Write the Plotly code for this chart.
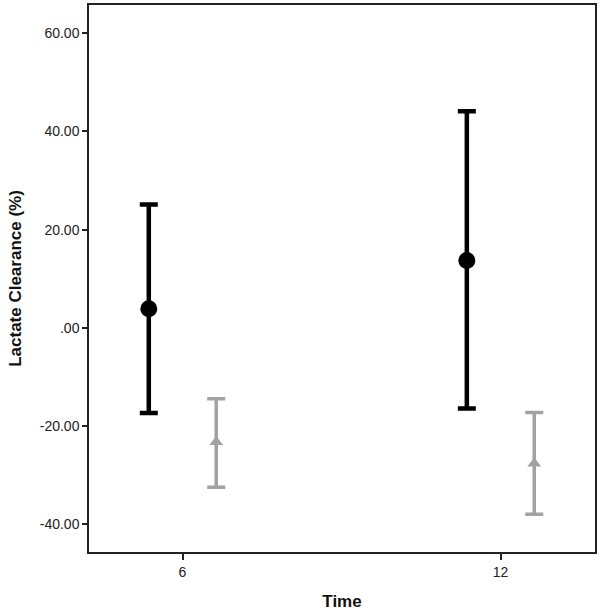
"""
Lactate clearance by time, two groups, mean with error bars
"""
import plotly.graph_objects as go

times = ["6", "12"]

black_mean = [3.9, 13.7]
black_upper = [25.1, 44.1]
black_lower = [-17.3, -16.4]

gray_mean = [-23.2, -27.6]
gray_upper = [-14.4, -17.2]
gray_lower = [-32.4, -37.9]

ytick_vals = [60, 40, 20, 0, -20, -40]
ytick_text = ["60.00", "40.00", "20.00", ".00", "-20.00", "-40.00"]

DODGE = 0.106
FONT = "Liberation Sans, Arial, sans-serif"


def _err(mean, upper, lower):
    return dict(
        type="data",
        symmetric=False,
        array=[u - m for u, m in zip(upper, mean)],
        arrayminus=[m - l for m, l in zip(mean, lower)],
    )


pos = list(range(len(times)))

fig = go.Figure()
fig.add_trace(go.Scatter(
    x=[p - DODGE for p in pos],
    y=black_mean,
    mode="markers",
    marker=dict(symbol="circle", size=17, color="black"),
    error_y=dict(**_err(black_mean, black_upper, black_lower), color="black", thickness=4.5, width=9),
    showlegend=False,
))
fig.add_trace(go.Scatter(
    x=[p + DODGE for p in pos],
    y=gray_mean,
    mode="markers",
    marker=dict(symbol="triangle-up", size=12, color="#a2a2a2"),
    error_y=dict(**_err(gray_mean, gray_upper, gray_lower), color="#a2a2a2", thickness=3.5, width=9),
    showlegend=False,
))

fig.update_layout(
    width=600,
    height=612,
    paper_bgcolor="white",
    plot_bgcolor="white",
    font=dict(family=FONT, size=14, color="#222"),
    margin=dict(l=89, r=3, t=3, b=60),
)
fig.update_xaxes(
    range=[-0.294, 1.297],
    tickvals=pos,
    ticktext=times,
    ticks="outside",
    ticklen=6,
    tickwidth=1.5,
    tickcolor="#222",
    showgrid=False,
    zeroline=False,
    showline=True,
    linecolor="#222",
    linewidth=1.5,
    mirror=True,
    title=dict(text="<b>Time</b>", font=dict(size=17, color="#111"), standoff=17),
)
fig.update_yaxes(
    range=[-45.6, 65.7],
    tickvals=ytick_vals,
    ticktext=ytick_text,
    ticks="outside",
    ticklen=5,
    tickwidth=1.5,
    tickcolor="#222",
    showgrid=False,
    zeroline=False,
    showline=True,
    linecolor="#222",
    linewidth=1.5,
    mirror=True,
    title=dict(text="<b>Lactate Clearance (%)</b>", font=dict(size=17, color="#111"), standoff=14),
)

fig.write_html(
    "out.html",
    config={"displayModeBar": False},
    post_script="document.body.style.margin='0';",
)
